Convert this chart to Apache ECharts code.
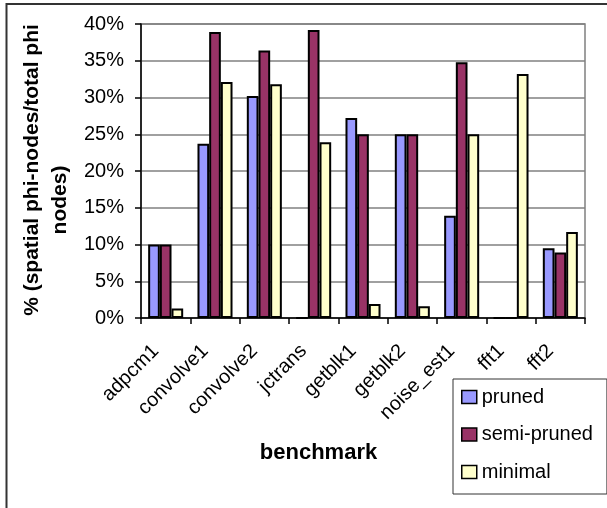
<!DOCTYPE html>
<html>
<head>
<meta charset="utf-8">
<script src="https://cdn.jsdelivr.net/npm/echarts@6/dist/echarts.min.js"></script>
<style>
  html, body { margin: 0; padding: 0; background: #fff; }
  #chart { width: 607px; height: 508px; }
</style>
</head>
<body>
<div id="chart"></div>
<script>
// Share of spatial phi-nodes per benchmark, in percent
const benchmarks = ['adpcm1', 'convolve1', 'convolve2', 'jctrans', 'getblk1', 'getblk2', 'noise_est1', 'fft1', 'fft2'];
const pruned     = [10.0, 23.7, 30.2, 0,    27.2, 25.0, 13.9, 0,    9.5];
const semiPruned = [10.0, 38.9, 36.4, 39.2, 25.0, 25.0, 34.8, 0,    8.9];
const minimal    = [1.3,  32.1, 31.8, 23.9, 1.9,  1.6,  25.0, 33.2, 11.7];
const yTicks = { min: 0, max: 40, step: 5 };

const FONT = '"Liberation Sans", Arial, sans-serif';

const chart = echarts.init(document.getElementById('chart'), null, { renderer: 'canvas' });

function barSeries(name, data, color) {
  return {
    name: name,
    type: 'bar',
    data: data,
    barGap: '0%',
    barCategoryGap: '29%',
    itemStyle: { color: color, borderColor: '#000', borderWidth: 2 },
    emphasis: { disabled: true }
  };
}

chart.setOption({
  animation: false,
  backgroundColor: '#fff',
  grid: {
    left: 141, right: 22, top: 24, bottom: 190,
    show: true, borderColor: '#808080', borderWidth: 1.5
  },
  xAxis: {
    type: 'category',
    data: benchmarks,
    axisLine: { lineStyle: { color: '#000', width: 1.5 } },
    axisTick: { show: true, length: 6, lineStyle: { color: '#000', width: 1.5 } },
    axisLabel: {
      rotate: 45, margin: 20, interval: 0,
      padding: [0, 14, 0, 0],
      fontFamily: FONT, fontSize: 20, color: '#000'
    }
  },
  yAxis: {
    type: 'value',
    min: yTicks.min, max: yTicks.max, interval: yTicks.step,
    axisLine: { show: true, lineStyle: { color: '#000', width: 1.5 } },
    axisTick: { show: true, length: 6, lineStyle: { color: '#000', width: 1.5 } },
    splitLine: { lineStyle: { color: '#808080', width: 1.5 } },
    axisLabel: {
      formatter: '{value}%', margin: 17,
      fontFamily: FONT, fontSize: 20, color: '#000'
    }
  },
  legend: {
    orient: 'vertical',
    left: 453, top: 379,
    padding: [8, 14, 12, 8],
    itemWidth: 15, itemHeight: 13, itemGap: 17.5,
    borderColor: '#333', borderWidth: 1,
    backgroundColor: '#fff',
    icon: 'rect',
    itemStyle: { borderColor: '#000', borderWidth: 1.5 },
    textStyle: { fontFamily: FONT, fontSize: 20, color: '#000', lineHeight: 20 },
    data: ['pruned', 'semi-pruned', 'minimal']
  },
  graphic: [
    {
      type: 'rect', silent: true,
      shape: { x: 6.5, y: 4, width: 640, height: 540 },
      style: { fill: 'none', stroke: '#333', lineWidth: 2 }
    },
    {
      type: 'text', silent: true,
      x: 32, y: 170, rotation: Math.PI / 2,
      style: {
        text: '% (spatial phi-nodes/total phi',
        font: 'bold 21px ' + FONT, fill: '#000',
        align: 'center', verticalAlign: 'middle'
      }
    },
    {
      type: 'text', silent: true,
      x: 60, y: 200, rotation: Math.PI / 2,
      style: {
        text: 'nodes)',
        font: 'bold 21px ' + FONT, fill: '#000',
        align: 'center', verticalAlign: 'middle'
      }
    },
    {
      type: 'text', silent: true,
      x: 318.5, y: 453,
      style: {
        text: 'benchmark',
        font: 'bold 22px ' + FONT, fill: '#000',
        align: 'center', verticalAlign: 'middle'
      }
    }
  ],
  series: [
    barSeries('pruned', pruned, '#9999FF'),
    barSeries('semi-pruned', semiPruned, '#993366'),
    barSeries('minimal', minimal, '#FFFFCC')
  ]
});
</script>
</body>
</html>
